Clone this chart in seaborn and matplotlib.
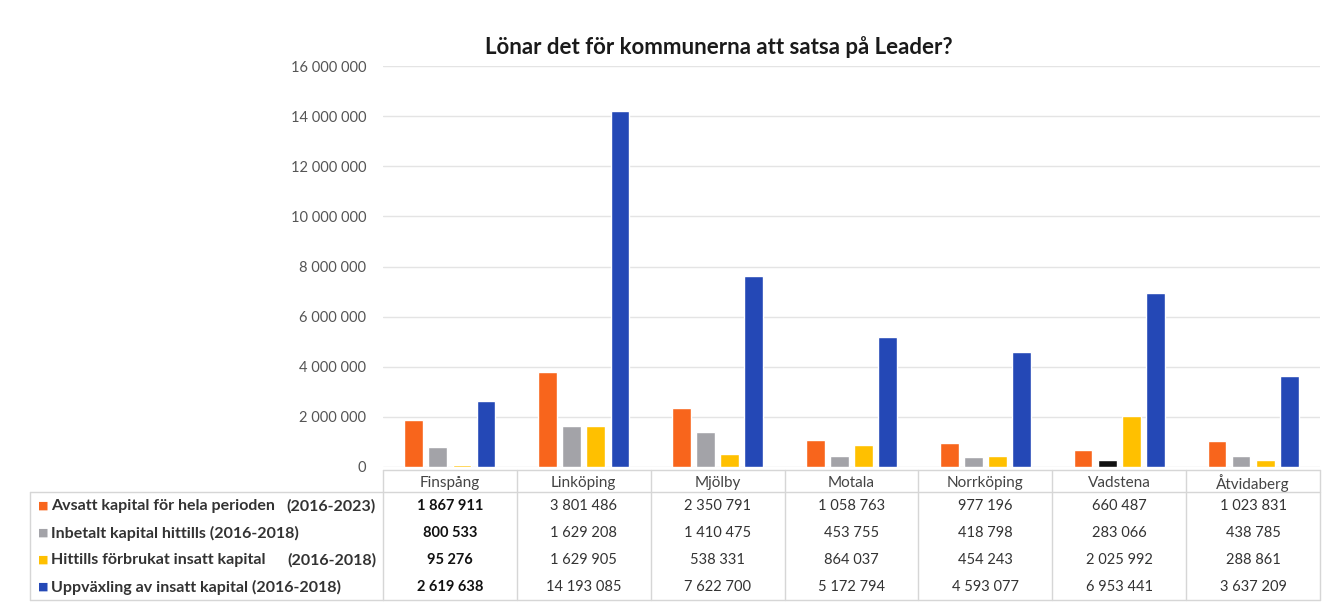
import matplotlib
matplotlib.use("Agg")
import matplotlib.pyplot as plt
import matplotlib.transforms as mtransforms
from matplotlib.lines import Line2D
import seaborn as sns
import pandas as pd

categories = ["Finspång", "Linköping", "Mjölby", "Motala", "Norrköping", "Vadstena", "Åtvidaberg"]
series_names = [
    "Avsatt kapital för hela perioden (2016-2023)",
    "Inbetalt kapital hittills (2016-2018)",
    "Hittills förbrukat insatt kapital (2016-2018)",
    "Uppväxling av insatt kapital (2016-2018)",
]
avsatt = [1867911, 3801486, 2350791, 1058763, 977196, 660487, 1023831]
inbetalt = [800533, 1629208, 1410475, 453755, 418798, 283066, 438785]
forbrukat = [95276, 1629905, 538331, 864037, 454243, 2025992, 288861]
uppvaxling = [2619638, 14193085, 7622700, 5172794, 4593077, 6953441, 3637209]
yticks = [0, 2000000, 4000000, 6000000, 8000000, 10000000, 12000000, 14000000, 16000000]
title = "Lönar det för kommunerna att satsa på Leader?"

colors = ["#F8651C", "#A3A3A8", "#FFC000", "#2448B6"]
series_values = [avsatt, inbetalt, forbrukat, uppvaxling]

rows = []
for name, vals in zip(series_names, series_values):
    for c, v in zip(categories, vals):
        rows.append({"Kommun": c, "Serie": name, "Värde": v})
df = pd.DataFrame(rows)

sns.set_theme(style="white")
plt.rcParams["font.family"] = ["Lato", "DejaVu Sans"]

W, H = 1325, 603
fig = plt.figure(figsize=(W / 100, H / 100), dpi=100)
ax = fig.add_axes([383 / W, 1 - 467 / H, (1320 - 383) / W, (467 - 66) / H])

sns.barplot(data=df, x="Kommun", y="Värde", hue="Serie", order=categories,
            hue_order=series_names, palette=colors, width=0.72, gap=0.22,
            saturation=1, legend=False, ax=ax)
# the scanned original shows Vadstena's "Inbetalt" bar in black
ax.containers[1][5].set_facecolor("#111111")

ax.set_xlim(-0.5, len(categories) - 0.5)
ax.set_ylim(0, 16000000)
ax.set_yticks(yticks)
ax.set_yticklabels([f"{v:,}".replace(",", " ") for v in yticks], fontsize=10.5, color="#555555")
ax.tick_params(axis="y", length=0, pad=12)
ax.set_xticks([])
ax.set_xlabel("")
ax.set_ylabel("")
ax.yaxis.grid(True, color="#e4e4e4", linewidth=1)
ax.set_axisbelow(True)
for s in ax.spines.values():
    s.set_visible(False)

fig.text(719 / W, 1 - 47 / H, title, ha="center", va="center", fontsize=16,
         fontweight="bold", color="#1a1a1a")

# data table under the chart
blend = mtransforms.blended_transform_factory(ax.transData, fig.transFigure)
def fy(py):
    return 1 - py / H

line_color = "#d6d6d6"
header_y = 483
row_ys = [506, 533, 560, 587]
table_top = 470
label_top = 492
table_bottom = 600

# column separators
for i in range(len(categories) + 1):
    fig.add_artist(Line2D([i - 0.5, i - 0.5], [fy(table_top), fy(table_bottom)],
                          transform=blend, color=line_color, linewidth=1))
# horizontal lines in the value area
for py in [table_top, label_top, table_bottom]:
    fig.add_artist(Line2D([-0.5, len(categories) - 0.5], [fy(py), fy(py)],
                          transform=blend, color=line_color, linewidth=1))
# row label box
fig.add_artist(Line2D([30 / W, 383 / W], [fy(label_top), fy(label_top)],
                      transform=fig.transFigure, color=line_color, linewidth=1))
fig.add_artist(Line2D([30 / W, 383 / W], [fy(table_bottom), fy(table_bottom)],
                      transform=fig.transFigure, color=line_color, linewidth=1))
fig.add_artist(Line2D([30 / W, 30 / W], [fy(label_top), fy(table_bottom)],
                      transform=fig.transFigure, color=line_color, linewidth=1))

for i, c in enumerate(categories):
    ax.text(i, fy(header_y), c, transform=blend, ha="center", va="center",
            fontsize=11, color="#444444", clip_on=False)

label_parts = [
    ("Avsatt kapital för hela perioden", "(2016-2023)"),
    ("Inbetalt kapital hittills (2016-2018)", None),
    ("Hittills förbrukat insatt kapital", "(2016-2018)"),
    ("Uppväxling av insatt kapital (2016-2018)", None),
]
for r, (py, (main, yr), col, vals) in enumerate(zip(row_ys, label_parts, colors, series_values)):
    fig.text(38 / W, fy(py), "■", ha="left", va="center", fontsize=8, color=col,
             family=["DejaVu Sans"])
    fig.text(51 / W, fy(py), main, ha="left", va="center", fontsize=11.5,
             fontweight="bold", color="#333333")
    if yr:
        fig.text(376 / W, fy(py), yr, ha="right", va="center", fontsize=11.5,
                 fontweight="bold", color="#333333")
    for i, v in enumerate(vals):
        ax.text(i, fy(py), f"{v:,}".replace(",", " "), transform=blend,
                ha="center", va="center", fontsize=10.5,
                fontweight="bold" if i == 0 else "normal",
                color="#111111" if i == 0 else "#333333", clip_on=False)

fig.savefig("out.png", dpi=100, facecolor="white")
